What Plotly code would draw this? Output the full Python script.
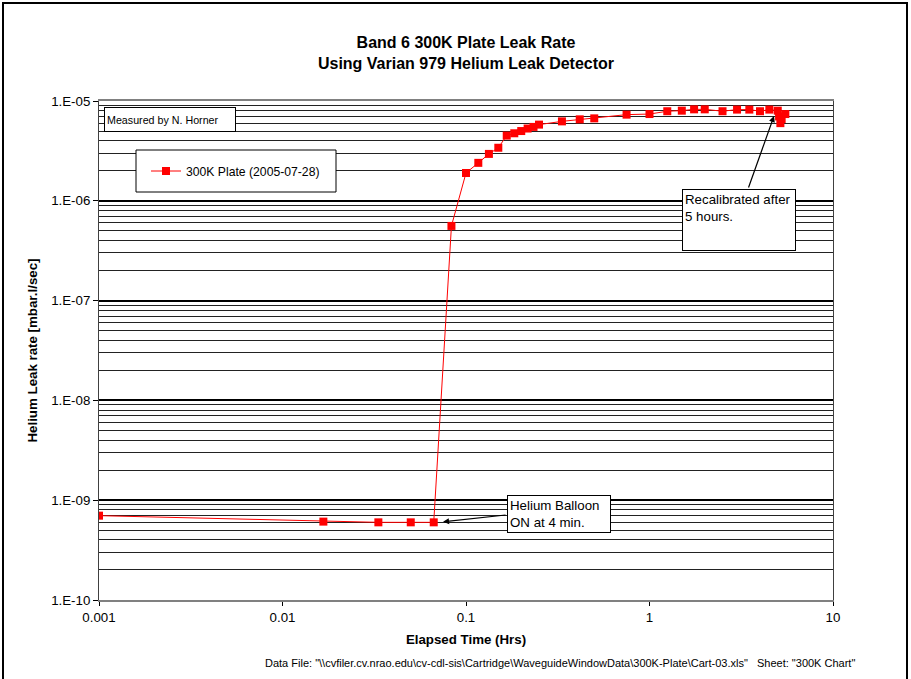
import plotly.graph_objects as go

# ---- data ----
elapsed_hrs = [0.001, 0.0167, 0.0333, 0.05, 0.0667, 0.0833, 0.1, 0.1167, 0.1333, 0.15,
               0.1667, 0.1833, 0.2, 0.2167, 0.2333, 0.25, 0.3333, 0.4167, 0.5, 0.75,
               1.0, 1.25, 1.5, 1.75, 2.0, 2.5, 3.0, 3.5, 4.0, 4.5,
               5.0, 5.083, 5.167, 5.25, 5.5]
leak_rate = [7.0e-10, 6.1e-10, 6.0e-10, 6.0e-10, 6.0e-10, 5.6e-7, 1.9e-6, 2.4e-6, 2.95e-6, 3.4e-6,
             4.5e-6, 4.75e-6, 5.0e-6, 5.3e-6, 5.5e-6, 5.8e-6, 6.25e-6, 6.55e-6, 6.7e-6, 7.3e-6,
             7.4e-6, 7.9e-6, 8.0e-6, 8.25e-6, 8.25e-6, 7.9e-6, 8.2e-6, 8.2e-6, 7.9e-6, 8.2e-6,
             8.0e-6, 7.0e-6, 6.0e-6, 6.6e-6, 7.4e-6]
series_name = "300K Plate (2005-07-28)"

x_tickvals = [0.001, 0.01, 0.1, 1, 10]
x_ticktext = ["0.001", "0.01", "0.1", "1", "10"]
y_tickvals = [1e-10, 1e-9, 1e-8, 1e-7, 1e-6, 1e-5]
y_ticktext = ["1.E-10", "1.E-09", "1.E-08", "1.E-07", "1.E-06", "1.E-05"]
y_minor_vals = [m * 10.0 ** e for e in range(-10, -5) for m in range(2, 10)]

FONT = "Liberation Sans, Arial, sans-serif"

# plot area in pixels: x 99..833, y 101..600
L, R, T, B = 99, 833, 101, 600
W, H = R - L, B - T


def px(x):
    return (x - L) / W


def py(y):
    return (B - y) / H


fig = go.Figure()
fig.add_trace(go.Scatter(
    x=elapsed_hrs, y=leak_rate, name=series_name, mode="lines+markers",
    line=dict(color="#ff0000", width=1),
    marker=dict(symbol="square", size=8, color="#ff0000"),
    showlegend=True,
))

shapes = [
    # legend box
    dict(type="rect", xref="paper", yref="paper", x0=px(136), x1=px(336), y0=py(150), y1=py(192),
         fillcolor="white", line=dict(color="black", width=1), layer="above"),
    # outer chart frame
    dict(type="rect", xref="paper", yref="paper", x0=px(3), x1=px(907), y0=py(3), y1=py(700),
         fillcolor="rgba(0,0,0,0)", line=dict(color="black", width=2), layer="above"),
]

annotations = [
    dict(text="Measured by N. Horner", xref="paper", yref="paper", x=px(104), y=py(107),
         xanchor="left", yanchor="top", showarrow=False, align="left",
         width=126, height=19, borderpad=2, bordercolor="black", borderwidth=1, bgcolor="white",
         font=dict(family=FONT, size=10.7, color="black")),
    dict(text="Recalibrated after<br>5 hours.", xref="paper", yref="paper", x=px(682), y=py(189),
         xanchor="left", yanchor="top", showarrow=False, align="left", valign="top",
         width=108, height=56, borderpad=2, bordercolor="black", borderwidth=1, bgcolor="white",
         font=dict(family=FONT, size=13.3, color="black")),
    dict(text="Helium Balloon<br>ON at 4 min.", xref="paper", yref="paper", x=px(507), y=py(495),
         xanchor="left", yanchor="top", showarrow=False, align="left", valign="top",
         width=98, height=32, borderpad=2, bordercolor="black", borderwidth=1, bgcolor="white",
         font=dict(family=FONT, size=13.3, color="black")),
    # arrows
    dict(text="", x=0.6785, y=-5.1506, xref="x", yref="y", showarrow=True,
         ax=-26, ay=73, arrowhead=2, arrowsize=1, arrowwidth=1.2, arrowcolor="black"),
    dict(text="", x=-1.125, y=-9.217, xref="x", yref="y", showarrow=True,
         ax=64, ay=-7, arrowhead=2, arrowsize=1, arrowwidth=1.2, arrowcolor="black"),
    # footer
    dict(text='Data File: "\\\\cvfiler.cv.nrao.edu\\cv-cdl-sis\\Cartridge\\WaveguideWindowData\\300K-Plate\\Cart-03.xls"   Sheet: "300K Chart"',
         xref="paper", yref="paper", x=px(857), y=py(663), xanchor="right", yanchor="middle",
         showarrow=False, font=dict(family=FONT, size=11, color="black")),
]

fig.update_layout(
    width=911, height=679,
    margin=dict(l=L, r=911 - R, t=T, b=679 - B),
    paper_bgcolor="white", plot_bgcolor="white",
    font=dict(family=FONT, color="black", size=13),
    title=dict(text="<b>Band 6 300K Plate Leak Rate<br>Using Varian 979 Helium Leak Detector</b>",
               x=0.5, xref="paper", xanchor="center", y=1 - 48 / 679, yref="container", yanchor="middle",
               font=dict(family=FONT, size=16, color="black")),
    xaxis=dict(type="log", range=[-3, 1], tickmode="array", tickvals=x_tickvals, ticktext=x_ticktext,
               showgrid=False, zeroline=False, showline=True, linecolor="#808080", linewidth=2,
               mirror=True, ticks="outside", ticklen=4, tickcolor="black",
               tickfont=dict(family=FONT, size=13.3),
               title=dict(text="<b>Elapsed Time (Hrs)</b>", font=dict(family=FONT, size=13.3), standoff=11)),
    yaxis=dict(type="log", range=[-10, -5], tickmode="array", tickvals=y_tickvals, ticktext=y_ticktext,
               showgrid=True, gridcolor="black", gridwidth=2, zeroline=False,
               showline=True, linecolor="#404040", linewidth=1, mirror=True,
               ticks="outside", ticklen=5, tickcolor="black",
               tickfont=dict(family=FONT, size=13.3),
               minor=dict(tickmode="array", tickvals=y_minor_vals, showgrid=True,
                          gridcolor="#222222", gridwidth=1, ticks=""),
               title=dict(text="<b>Helium Leak rate [mbar.l/sec]</b>", font=dict(family=FONT, size=13.3), standoff=10)),
    legend=dict(x=px(146), y=py(171), xanchor="left", yanchor="middle",
                bgcolor="rgba(0,0,0,0)", borderwidth=0,
                font=dict(family=FONT, size=12.2, color="black"), itemwidth=30),
    shapes=shapes,
    annotations=annotations,
)

fig.write_html("out.html", post_script="document.body.style.margin='0';",
               config={"displayModeBar": False})
